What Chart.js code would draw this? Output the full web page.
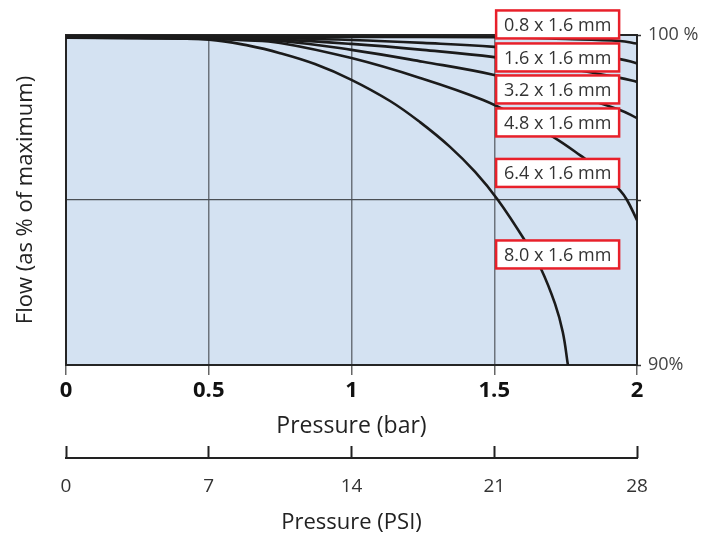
<!DOCTYPE html>
<html>
<head>
<meta charset="utf-8">
<script src="https://cdn.jsdelivr.net/npm/chart.js@4.4.1/dist/chart.umd.min.js"></script>
<style>
html,body{margin:0;padding:0;background:#ffffff;}
canvas{display:block;}
</style>
</head>
<body>
<canvas id="c" width="706" height="542"></canvas>
<script>
// ---- data ----
const seriesLabels = ['0.8 x 1.6 mm', '1.6 x 1.6 mm', '3.2 x 1.6 mm', '4.8 x 1.6 mm', '6.4 x 1.6 mm', '8.0 x 1.6 mm'];

const pressure08 = [0, 0.5, 1.0, 1.5, 1.75, 1.94, 2.0];
const flow08     = [99.95, 99.95, 99.94, 99.93, 99.88, 99.82, 99.74];

const pressure16 = [0, 0.5, 0.75, 1.0, 1.25, 1.5, 1.75, 1.94, 2.0];
const flow16     = [99.94, 99.93, 99.9, 99.85, 99.76, 99.64, 99.43, 99.27, 99.14];

const pressure32 = [0, 0.5, 0.75, 1.0, 1.25, 1.5, 1.75, 1.94, 2.0];
const flow32     = [99.93, 99.91, 99.86, 99.73, 99.55, 99.33, 99.0, 98.7, 98.58];

const pressure48 = [0, 0.5, 0.75, 1.0, 1.25, 1.5, 1.75, 1.94, 2.0];
const flow48     = [99.92, 99.9, 99.82, 99.55, 99.19, 98.79, 98.24, 97.73, 97.48];

const pressure64 = [0, 0.5, 0.62, 0.75, 1.0, 1.24, 1.461, 1.59, 1.706, 1.8, 1.87, 1.94, 1.965, 2.0];
const flow64     = [99.92, 99.88, 99.84, 99.76, 99.3, 98.7, 98.03, 97.48, 96.91, 96.36, 95.91, 95.3, 95.0, 94.39];

const pressure80 = [0, 0.249, 0.501, 0.644, 0.75, 0.872, 0.998, 1.135, 1.24, 1.345, 1.433, 1.513, 1.611, 1.664, 1.713, 1.74, 1.758];
const flow80     = [99.92, 99.91, 99.86, 99.67, 99.45, 99.12, 98.65, 98.0, 97.36, 96.61, 95.85, 95.0, 93.72, 92.91, 91.85, 91.0, 90];

const barTicks = [0, 0.5, 1, 1.5, 2];
const psiTicks = [0, 7, 14, 21, 28];
const flowTickLabels = {100: '100 %', 90: '90%'};

// annotation anchors (in data units) for the boxed series labels
const labelAnchorX = 1.722;
const labelAnchorY = [100.32, 99.32, 98.35, 97.35, 95.82, 93.35];

// ---- chart ----
const seriesX = [pressure08, pressure16, pressure32, pressure48, pressure64, pressure80];
const seriesY = [flow08, flow16, flow32, flow48, flow64, flow80];

Chart.defaults.font.family = "'Open Sans', 'Noto Sans', sans-serif";

const decor = {
  id: 'decor',
  beforeDraw(chart) {
    const {ctx, chartArea: a} = chart;
    ctx.save();
    ctx.fillStyle = '#d4e2f2';
    ctx.fillRect(a.left, a.top, a.right - a.left, a.bottom - a.top);
    ctx.restore();
  },
  beforeDatasetsDraw(chart) {
    const {ctx, chartArea: a} = chart;
    ctx.save();
    ctx.strokeStyle = '#252525';
    ctx.lineWidth = 2;
    ctx.strokeRect(a.left, a.top, a.right - a.left, a.bottom - a.top);
    ctx.restore();
  },
  afterDraw(chart) {
    const {ctx} = chart;
    const x = chart.scales.x, y = chart.scales.y, x2 = chart.scales.x2;
    ctx.save();
    // PSI axis base line
    const ly = x2.top + 12;
    ctx.strokeStyle = '#222';
    ctx.lineWidth = 2;
    ctx.beginPath();
    ctx.moveTo(x2.left - 1, ly);
    ctx.lineTo(x2.right + 1, ly);
    ctx.stroke();
    // boxed labels
    ctx.font = "18px 'Open Sans', sans-serif";
    ctx.textAlign = 'center';
    ctx.textBaseline = 'middle';
    const cx = x.getPixelForValue(labelAnchorX);
    const w = 123, h = 28;
    seriesLabels.forEach((t, i) => {
      const cy = y.getPixelForValue(labelAnchorY[i]);
      ctx.fillStyle = '#ffffff';
      ctx.fillRect(cx - w / 2, cy - h / 2, w, h);
      ctx.strokeStyle = '#e8202a';
      ctx.lineWidth = 2.5;
      ctx.strokeRect(cx - w / 2, cy - h / 2, w, h);
      ctx.fillStyle = '#333333';
      ctx.fillText(t, cx, cy + 1);
    });
    ctx.restore();
  }
};

new Chart(document.getElementById('c'), {
  type: 'line',
  data: {
    datasets: seriesLabels.map((lab, i) => ({
      label: lab,
      data: seriesX[i].map((p, k) => ({x: p, y: seriesY[i][k]})),
      borderColor: '#1b1b1b',
      borderWidth: 2.6,
      pointRadius: 0,
      fill: false,
      tension: 0.4,
      xAxisID: 'x',
      yAxisID: 'y'
    }))
  },
  options: {
    responsive: false,
    animation: false,
    devicePixelRatio: 1,
    layout: {padding: {top: 35, left: 0, right: 0, bottom: 0}},
    plugins: {legend: {display: false}, tooltip: {enabled: false}},
    scales: {
      x: {
        type: 'linear', position: 'bottom', min: 0, max: 2, weight: 0,
        afterBuildTicks(s) { s.ticks = barTicks.map(v => ({value: v})); },
        ticks: {color: '#111', font: {size: 22, weight: 'bold'}, padding: 3, maxRotation: 0, autoSkip: false,
                callback: v => String(v)},
        grid: {
          color: c => (c.tick && (c.tick.value === 0 || c.tick.value === 2)) ? 'rgba(0,0,0,0)' : '#6c737c',
          lineWidth: 1.5, tickLength: 10, tickColor: '#666', tickWidth: 1.5
        },
        border: {display: false},
        title: {display: true, text: 'Pressure (bar)', font: {size: 23}, color: '#222', padding: {top: 0, bottom: 6}},
        afterFit(s) { s.height = 81; }
      },
      x2: {
        type: 'linear', position: 'bottom', min: 0, max: 28, weight: 1,
        afterBuildTicks(s) { s.ticks = psiTicks.map(v => ({value: v})); },
        ticks: {color: '#333', font: {size: 19}, padding: 17, maxRotation: 0, autoSkip: false,
                callback: v => String(v)},
        grid: {drawOnChartArea: false, tickLength: 12, tickColor: '#222', tickWidth: 2},
        border: {display: false},
        title: {display: true, text: 'Pressure (PSI)', font: {size: 22}, color: '#222', padding: {top: 0, bottom: 6}},
        afterFit(s) { s.height = 96; }
      },
      y: {
        type: 'linear', position: 'left', min: 90, max: 100,
        ticks: {display: false, stepSize: 5},
        grid: {color: c => (c.tick && c.tick.value === 95) ? '#4a4f55' : 'rgba(0,0,0,0)', lineWidth: 1.2, drawTicks: false},
        border: {display: false},
        title: {display: true, text: 'Flow (as % of maximum)', font: {size: 22}, color: '#222', padding: {top: 13, bottom: 0}},
        afterFit(s) { s.width = 66; }
      },
      y2: {
        type: 'linear', position: 'right', min: 90, max: 100,
        ticks: {stepSize: 5, color: '#444', font: {size: 18}, padding: 7,
                callback: v => flowTickLabels[v] || ''},
        grid: {drawOnChartArea: false, tickLength: 4, tickColor: '#333', tickWidth: 1.5},
        border: {display: false},
        afterFit(s) { s.width = 69; }
      }
    }
  },
  plugins: [decor]
});
</script>
</body>
</html>
